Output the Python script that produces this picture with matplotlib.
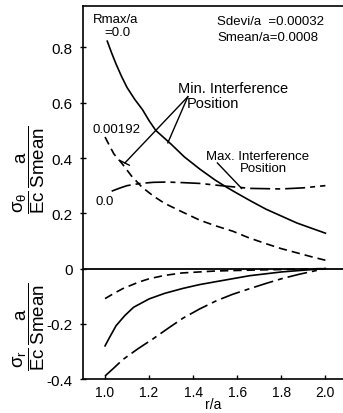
import matplotlib
matplotlib.use("Agg")
import matplotlib.pyplot as plt

plt.rcParams['font.family'] = ['Liberation Sans', 'DejaVu Sans']
plt.rcParams['mathtext.fontset'] = 'custom'
plt.rcParams['mathtext.rm'] = 'Liberation Sans'
plt.rcParams['mathtext.it'] = 'Liberation Sans'

# sigma_theta, Rmax/a = 0.0, min. interference (solid)
r_t_min0 = [1.01, 1.03, 1.05, 1.075, 1.10, 1.135, 1.17, 1.20, 1.23, 1.30, 1.36, 1.43,
            1.50, 1.55, 1.60, 1.66, 1.73, 1.80, 1.87, 1.94, 2.00]
s_t_min0 = [0.823, 0.78, 0.74, 0.695, 0.655, 0.612, 0.575, 0.535, 0.50, 0.45, 0.404, 0.36,
            0.32, 0.295, 0.272, 0.245, 0.215, 0.19, 0.165, 0.145, 0.128]
# sigma_theta, Rmax/a = 0.00192, min. interference (dashed)
r_t_min2 = [1.00, 1.02, 1.04, 1.077, 1.12, 1.167, 1.22, 1.27, 1.35, 1.43, 1.50, 1.58,
            1.65, 1.73, 1.80, 1.87, 1.94, 2.00]
s_t_min2 = [0.476, 0.445, 0.415, 0.38, 0.335, 0.295, 0.262, 0.236, 0.205, 0.175, 0.155, 0.135,
            0.112, 0.09, 0.072, 0.057, 0.042, 0.03]
# sigma_theta, Rmax/a = 0.0, max. interference (dash-dot)
r_t_max0 = [1.03, 1.07, 1.10, 1.16, 1.22, 1.28, 1.35, 1.43, 1.55, 1.66, 1.80, 1.90, 2.00]
s_t_max0 = [0.28, 0.292, 0.30, 0.308, 0.312, 0.313, 0.311, 0.308, 0.298, 0.29, 0.288, 0.292, 0.30]

# sigma_r, Rmax/a = 0.00192, min. interference (dashed)
r_r_min2 = [1.00, 1.04, 1.08, 1.15, 1.20, 1.27, 1.35, 1.50, 1.70, 1.85, 2.00]
s_r_min2 = [-0.109, -0.09, -0.073, -0.05, -0.037, -0.025, -0.016, -0.009, -0.005, -0.003, 0.0]
# sigma_r, Rmax/a = 0.0, min. interference (solid)
r_r_min0 = [1.00, 1.02, 1.05, 1.09, 1.13, 1.20, 1.27, 1.353, 1.43, 1.507, 1.656, 1.805, 2.00]
s_r_min0 = [-0.28, -0.25, -0.207, -0.17, -0.14, -0.11, -0.09, -0.072, -0.058, -0.047, -0.026,
            -0.012, 0.0]
# sigma_r, Rmax/a = 0.0, max. interference (dash-dot)
r_r_max0 = [1.00, 1.04, 1.08, 1.15, 1.217, 1.285, 1.353, 1.43, 1.507, 1.58, 1.656, 1.73,
            1.805, 1.88, 1.96, 2.00]
s_r_max0 = [-0.389, -0.36, -0.33, -0.29, -0.255, -0.217, -0.18, -0.146, -0.116, -0.093, -0.073,
            -0.054, -0.036, -0.021, -0.007, 0.0]

xticks = [1.0, 1.2, 1.4, 1.6, 1.8, 2.0]
xticklabels = ['1.0', '1.2', '1.4', '1.6', '1.8', '2.0']
yticks = [-0.4, -0.2, 0, 0.2, 0.4, 0.6, 0.8]
yticklabels = ['-0.4', '-0.2', '0', '0.2', '0.4', '0.6', '0.8']

fig = plt.figure(figsize=(3.43, 4.14), dpi=100)
ax = fig.add_axes([0.242, 0.082, 0.758, 0.901])

lw = 1.2
dashed = (0, (5, 3))
dashdot = (0, (12, 3, 3, 3))
ax.plot(r_t_min0, s_t_min0, color='black', lw=lw, ls='-')
ax.plot(r_t_min2, s_t_min2, color='black', lw=lw, ls=dashed)
ax.plot(r_t_max0, s_t_max0, color='black', lw=lw, ls=dashdot)
ax.plot(r_r_min2, s_r_min2, color='black', lw=lw, ls=dashed)
ax.plot(r_r_min0, s_r_min0, color='black', lw=lw, ls='-')
ax.plot(r_r_max0, s_r_max0, color='black', lw=lw, ls=dashdot)
ax.axhline(0, color='black', lw=1.3)

ax.set_xlim(0.9, 2.08)
ax.set_ylim(-0.4, 0.95)
ax.set_xticks(xticks)
ax.set_xticklabels(xticklabels, fontsize=10)
ax.set_yticks(yticks)
ax.set_yticklabels(yticklabels, fontsize=11)
ax.tick_params(axis='x', direction='in', length=3, width=1, pad=4)
ax.tick_params(axis='y', direction='inout', length=5, width=1, pad=5)
ax.spines['right'].set_visible(False)
for s in ['left', 'top', 'bottom']:
    ax.spines[s].set_linewidth(1.2)

ax.text(1.49, -0.465, 'r/a', fontsize=10, ha='center', va='top')

# y labels
fig.text(0.085, 1 - 170 / 414, r'$\dfrac{\sigma_\theta}{\mathrm{Ec}}\,\dfrac{a}{\mathrm{S mean}}$',
         rotation=90, ha='center', va='center', fontsize=13.5)
fig.text(0.085, 1 - 327 / 414, r'$\dfrac{\sigma_r}{\mathrm{Ec}}\,\dfrac{a}{\mathrm{S mean}}$',
         rotation=90, ha='center', va='center', fontsize=13.5)

# annotations
ax.text(1.05, 0.902, 'Rmax/a', fontsize=9.5, ha='center', va='center')
ax.text(1.055, 0.855, '=0.0', fontsize=9.5, ha='center', va='center')
ax.text(1.51, 0.897, 'Sdevi/a  =0.00032', fontsize=9.5, ha='left', va='center')
ax.text(1.51, 0.838, 'Smean/a=0.0008', fontsize=9.5, ha='left', va='center')
ax.text(1.33, 0.655, 'Min. Interference', fontsize=10.5, ha='left', va='center')
ax.text(1.37, 0.598, 'Position', fontsize=10.5, ha='left', va='center')
ax.text(1.46, 0.407, 'Max. Interference', fontsize=9.5, ha='left', va='center')
ax.text(1.61, 0.364, 'Position', fontsize=9.5, ha='left', va='center')
ax.text(1.054, 0.505, '0.00192', fontsize=9.5, ha='center', va='center')
ax.text(0.998, 0.244, '0.0', fontsize=9.5, ha='center', va='center')

# leader lines
ax.plot([1.376, 1.09], [0.622, 0.382], color='black', lw=1.0)
ax.plot([1.07, 1.11], [0.39, 0.374], color='black', lw=1.0)
ax.plot([1.376, 1.285], [0.622, 0.455], color='black', lw=1.0)
ax.plot([1.51, 1.62], [0.382, 0.29], color='black', lw=1.0)

fig.savefig('out.png', dpi=100)
